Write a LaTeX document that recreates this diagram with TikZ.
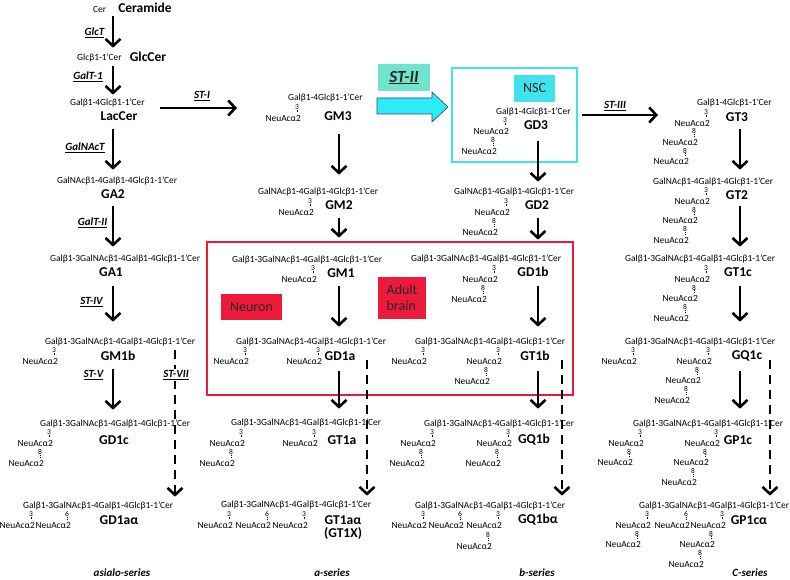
\documentclass[tikz,border=0pt]{standalone}
\usepackage{fontspec}
\setmainfont{Carlito}
\usetikzlibrary{arrows.meta}
\definecolor{NscCyan}{RGB}{64,226,236}
\definecolor{ArrowCyan}{RGB}{45,236,246}
\definecolor{StMint}{RGB}{112,228,204}
\definecolor{BrainRed}{RGB}{238,26,60}
\definecolor{EdgeBlue}{RGB}{40,70,110}

\newcommand{\frmfont}{\fontsize{9.4}{11}\selectfont}
\newcommand{\lnkfont}{\fontsize{7.5}{9}\selectfont}
\newcommand{\namefont}{\fontsize{13.5}{15}\selectfont\bfseries}
\newcommand{\enzfont}{\fontsize{11}{13}\selectfont\bfseries\itshape}
\newcommand{\seriesfont}{\fontsize{11}{13}\selectfont\bfseries\itshape}
\newcommand{\tagfont}{\fontsize{14}{16}\selectfont}
\newcommand{\stfont}{\fontsize{17}{19}\selectfont\bfseries\itshape}

% linkage number, dotted bond and one NeuAc residue
\newcommand{\sia}[4]{%
  \node[lnk] (#1) at (#2,#3) {#4};
  \draw[tick] (#1.south) -- ++(0,3);
  \path (#1.center) ++(4,11) node[neu] (#1n) {NeuAcα2};}

\begin{document}
\begin{tikzpicture}[x=1pt, y=-1pt, every node/.style={inner sep=0pt}]
  \tikzstyle{frm}=[anchor=west, font=\frmfont]
  \tikzstyle{gname}=[font=\namefont, inner sep=1pt]
  \tikzstyle{lnk}=[font=\lnkfont]
  \tikzstyle{neu}=[anchor=east, font=\frmfont]
  \tikzstyle{tick}=[line width=0.5pt, dash pattern=on 1pt off 0.8pt]
  \tikzstyle{enz}=[font=\enzfont, inner sep=1pt]
  \tikzstyle{series}=[font=\seriesfont]
  \tikzstyle{tag}=[font=\tagfont, text=black!85]
  \tikzstyle{arr}=[line width=2.6pt, -{Straight Barb[length=7pt,width=15pt]}]
  \tikzstyle{darr}=[arr, dash pattern=on 9pt off 6pt]
  \useasboundingbox (0,0) rectangle (790,580);

  % boxes
  \draw[BrainRed, line width=2.4pt] (207,242) rectangle (573,395);
  \draw[NscCyan, line width=2.8pt] (452,68) rectangle (577,162);
  \filldraw[fill=ArrowCyan, draw=EdgeBlue, line width=0.6pt]
    (377,98) -- (432,98) -- (432,92) -- (448,107) -- (432,122) -- (432,114) -- (377,114) -- cycle;
  \node[tag, fill=StMint, font=\stfont, minimum width=52pt, minimum height=27pt] (st2) at (404,77.5) {\underline{ST-II}};
  \node[tag, fill=NscCyan, minimum width=41pt, minimum height=27pt] (nsc) at (534.5,88.5) {NSC};
  \node[tag, fill=BrainRed, minimum width=61pt, minimum height=26pt] (neuron) at (251.5,307) {Neuron};
  \node[tag, fill=BrainRed, minimum width=48pt, minimum height=42pt, align=left] (adult) at (402,298) {Adult\\brain};

  % asialo-series
  \node[frm] (cer-f) at (93,9) {Cer};
  \node[gname] (cer) at (145,8) {Ceramide};
  \node[frm] (glc-f) at (77,58) {Glcβ1-1’Cer};
  \node[gname] (glc) at (148,57) {GlcCer};
  \node[frm] (lac-f) at (70,103) {Galβ1-4Glcβ1-1’Cer};
  \node[gname] (lac) at (119,116) {LacCer};
  \node[frm] (ga2-f) at (57,181) {GalNAcβ1-4Galβ1-4Glcβ1-1’Cer};
  \node[gname] (ga2) at (113,194) {GA2};
  \node[frm] (ga1-f) at (50,259) {Galβ1-3GalNAcβ1-4Galβ1-4Glcβ1-1’Cer};
  \node[gname] (ga1) at (111,272) {GA1};
  \node[frm] (gm1b-f) at (45,342) {Galβ1-3GalNAcβ1-4Galβ1-4Glcβ1-1’Cer};
  \node[gname] (gm1b) at (118,356) {GM1b};
  \sia{gm1b-k1}{54}{350}{3}
  \node[frm] (gd1c-f) at (40,424) {Galβ1-3GalNAcβ1-4Galβ1-4Glcβ1-1’Cer};
  \node[gname] (gd1c) at (114,440) {GD1c};
  \sia{gd1c-k1}{49}{432}{3}
  \sia{gd1c-k2}{40}{452}{8}
  \node[frm] (gd1aa-f) at (23,506) {Galβ1-3GalNAcβ1-4Galβ1-4Glcβ1-1’Cer};
  \node[gname] (gd1aa) at (119,520) {GD1aα};
  \sia{gd1aa-k1}{31}{514}{3}
  \sia{gd1aa-k2}{67}{514}{6}
  \node[series] (ser-asialo) at (122,573) {asialo-series};

  % a-series
  \node[frm] (gm3-f) at (288,98) {Galβ1-4Glcβ1-1’Cer};
  \node[gname] (gm3) at (338,116) {GM3};
  \sia{gm3-k1}{297}{107}{3}
  \node[frm] (gm2-f) at (258,192) {GalNAcβ1-4Galβ1-4Glcβ1-1’Cer};
  \node[gname] (gm2) at (339,205) {GM2};
  \sia{gm2-k1}{310}{201}{3}
  \node[frm] (gm1-f) at (232,260) {Galβ1-3GalNAcβ1-4Galβ1-4Glcβ1-1’Cer};
  \node[gname] (gm1) at (341,273) {GM1};
  \sia{gm1-k1}{313}{268}{3}
  \node[frm] (gd1a-f) at (236,342) {Galβ1-3GalNAcβ1-4Galβ1-4Glcβ1-1’Cer};
  \node[gname] (gd1a) at (340,356) {GD1a};
  \sia{gd1a-k1}{245}{350}{3}
  \sia{gd1a-k2}{318}{350}{3}
  \node[frm] (gt1a-f) at (231,423) {Galβ1-3GalNAcβ1-4Galβ1-4Glcβ1-1’Cer};
  \node[gname] (gt1a) at (342,440) {GT1a};
  \sia{gt1a-k1}{241}{432}{3}
  \sia{gt1a-k2}{231}{452}{8}
  \sia{gt1a-k3}{314}{432}{3}
  \node[frm] (gt1aa-f) at (221,505) {Galβ1-3GalNAcβ1-4Galβ1-4Glcβ1-1’Cer};
  \node[gname] (gt1aa) at (343,520) {GT1aα};
  \node[gname] (gt1x) at (343,534) {(GT1X)};
  \sia{gt1aa-k1}{229}{514}{3}
  \sia{gt1aa-k2}{267}{514}{6}
  \sia{gt1aa-k3}{304}{514}{3}
  \node[series] (ser-a) at (332,573) {a-series};

  % b-series
  \node[frm] (gd3-f) at (496,112) {Galβ1-4Glcβ1-1’Cer};
  \node[gname] (gd3) at (536,125) {GD3};
  \sia{gd3-k1}{505}{120}{3}
  \sia{gd3-k2}{493}{140}{8}
  \node[frm] (gd2-f) at (454,192) {GalNAcβ1-4Galβ1-4Glcβ1-1’Cer};
  \node[gname] (gd2) at (537,205) {GD2};
  \sia{gd2-k1}{506}{201}{3}
  \sia{gd2-k2}{494}{221}{8}
  \node[frm] (gd1b-f) at (411,259) {Galβ1-3GalNAcβ1-4Galβ1-4Glcβ1-1’Cer};
  \node[gname] (gd1b) at (533,272) {GD1b};
  \sia{gd1b-k1}{494}{268}{3}
  \sia{gd1b-k2}{483}{288}{8}
  \node[frm] (gt1b-f) at (415,342) {Galβ1-3GalNAcβ1-4Galβ1-4Glcβ1-1’Cer};
  \node[gname] (gt1b) at (535,356) {GT1b};
  \sia{gt1b-k1}{423}{350}{3}
  \sia{gt1b-k2}{498}{350}{3}
  \sia{gt1b-k3}{486}{370}{8}
  \node[frm] (gq1b-f) at (424,424) {Galβ1-3GalNAcβ1-4Galβ1-4Glcβ1-1’Cer};
  \node[gname] (gq1b) at (534,440) {GQ1b};
  \sia{gq1b-k1}{432}{432}{3}
  \sia{gq1b-k2}{421}{452}{8}
  \sia{gq1b-k3}{508}{432}{3}
  \sia{gq1b-k4}{497}{452}{8}
  \node[frm] (gq1ba-f) at (415,506) {Galβ1-3GalNAcβ1-4Galβ1-4Glcβ1-1’Cer};
  \node[gname] (gq1ba) at (538,520) {GQ1bα};
  \sia{gq1ba-k1}{423}{514}{3}
  \sia{gq1ba-k2}{460}{514}{6}
  \sia{gq1ba-k3}{498}{514}{3}
  \sia{gq1ba-k4}{488}{535}{8}
  \node[series] (ser-b) at (537,573) {b-series};

  % C-series
  \node[frm] (gt3-f) at (697,103) {Galβ1-4Glcβ1-1’Cer};
  \node[gname] (gt3) at (737,117) {GT3};
  \sia{gt3-k1}{706}{112}{3}
  \sia{gt3-k2}{694}{131}{8}
  \sia{gt3-k3}{685}{150.5}{8}
  \node[frm] (gt2-f) at (653,182) {GalNAcβ1-4Galβ1-4Glcβ1-1’Cer};
  \node[gname] (gt2) at (737,195) {GT2};
  \sia{gt2-k1}{706}{190}{3}
  \sia{gt2-k2}{694}{209.5}{8}
  \sia{gt2-k3}{685}{229}{8}
  \node[frm] (gt1c-f) at (625,259) {Galβ1-3GalNAcβ1-4Galβ1-4Glcβ1-1’Cer};
  \node[gname] (gt1c) at (738,272) {GT1c};
  \sia{gt1c-k1}{706}{268}{3}
  \sia{gt1c-k2}{694}{287.5}{8}
  \sia{gt1c-k3}{685}{307}{8}
  \node[frm] (gq1c-f) at (625,342) {Galβ1-3GalNAcβ1-4Galβ1-4Glcβ1-1’Cer};
  \node[gname] (gq1c) at (747,356) {GQ1c};
  \sia{gq1c-k1}{633}{350}{3}
  \sia{gq1c-k2}{708}{350}{3}
  \sia{gq1c-k3}{697}{369.5}{8}
  \sia{gq1c-k4}{686}{389}{8}
  \node[frm] (gp1c-f) at (633,424) {Galβ1-3GalNAcβ1-4Galβ1-4Glcβ1-1’Cer};
  \node[gname] (gp1c) at (738,440) {GP1c};
  \sia{gp1c-k1}{640}{432}{3}
  \sia{gp1c-k2}{629}{451.5}{8}
  \sia{gp1c-k3}{716}{432}{3}
  \sia{gp1c-k4}{705}{451.5}{8}
  \sia{gp1c-k5}{693}{471}{8}
  \node[frm] (gp1ca-f) at (639,506) {Galβ1-3GalNAcβ1-4Galβ1-4Glcβ1-1’Cer};
  \node[gname] (gp1ca) at (749,520) {GP1cα};
  \sia{gp1ca-k1}{647}{514}{3}
  \sia{gp1ca-k2}{637}{533.5}{8}
  \sia{gp1ca-k3}{686}{514}{6}
  \sia{gp1ca-k4}{722}{514}{3}
  \sia{gp1ca-k5}{711}{533.5}{8}
  \sia{gp1ca-k6}{700}{553}{8}
  \node[series] (ser-c) at (750,573) {C-series};

  % pathway arrows
  \coordinate (colA) at (113,0);
  \coordinate (colB) at (339,0);
  \coordinate (colC) at (538,0);
  \coordinate (colD) at (740,0);
  \foreach \a/\b/\s/\e in {cer/glc-f/2/6, glc/lac-f/3/4, lac/ga2-f/7/7,
      ga2/ga1-f/6/8, ga1/gm1b-f/8/16, gm1b/gd1c-f/7/10}
    \draw[arr, shorten <=\s pt, shorten >=\e pt] (\a.south -| colA) -- (\b.north -| colA);
  \foreach \a/\b/\s/\e in {gm3/gm2-f/12/13, gm2/gm1-f/7/18, gm1/gd1a-f/7/11, gd1a/gt1a-f/9/10}
    \draw[arr, shorten <=\s pt, shorten >=\e pt] (\a.south -| colB) -- (\b.north -| colB);
  \foreach \a/\b/\s/\e in {gd3/gd2-f/10/6, gd2/gd1b-f/7/15, gd1b/gt1b-f/8/11, gt1b/gq1b-f/9/11}
    \draw[arr, shorten <=\s pt, shorten >=\e pt] (\a.south -| colC) -- (\b.north -| colC);
  \foreach \a/\b/\s/\e in {gt3/gt2-f/6/8, gt2/gt1c-f/5/8, gt1c/gq1c-f/8/16, gq1c/gp1c-f/9/11}
    \draw[arr, shorten <=\s pt, shorten >=\e pt] (\a.south -| colD) -- (\b.north -| colD);

  % alpha-series branches
  \coordinate (dashA) at (175,350);
  \coordinate (dashB) at (367,360);
  \coordinate (dashC) at (562,360);
  \coordinate (dashD) at (770,360);
  \draw[darr, shorten >=5pt] (dashA) -- (dashA |- gd1aa-f.north);
  \draw[darr, shorten >=5pt] (dashB) -- (dashB |- gt1aa-f.north);
  \draw[darr, shorten >=6pt] (dashC) -- (dashC |- gq1ba-f.north);
  \draw[darr, shorten >=6pt] (dashD) -- (dashD |- gp1ca-f.north);

  % sialyltransferase steps
  \coordinate (st1-end) at (237,108);
  \coordinate (st3-end) at (658,115);
  \draw[arr] ([xshift=15pt,yshift=-5pt]lac-f.east) -- (st1-end);
  \draw[arr] ([xshift=11pt,yshift=-3pt]gd3-f.east) -- (st3-end);

  % enzymes
  \node[enz] (e-glct) at (94.5,33) {\underline{GlcT}};
  \node[enz] (e-galt1) at (88,77) {\underline{GalT-1}};
  \node[enz] (e-galnact) at (85,148) {\underline{GalNAcT}};
  \node[enz] (e-galt2) at (92.5,223) {\underline{GalT-II}};
  \node[enz] (e-st4) at (91.5,302) {\underline{ST-IV}};
  \node[enz] (e-st5) at (93.5,375) {\underline{ST-V}};
  \node[enz, fill=white] (e-st7) at (176,375) {\underline{ST-VII}};
  \node[enz] (e-st1) at (202,96) {\underline{ST-I}};
  \node[enz] (e-st3) at (615,106) {\underline{ST-III}};
\end{tikzpicture}
\end{document}
